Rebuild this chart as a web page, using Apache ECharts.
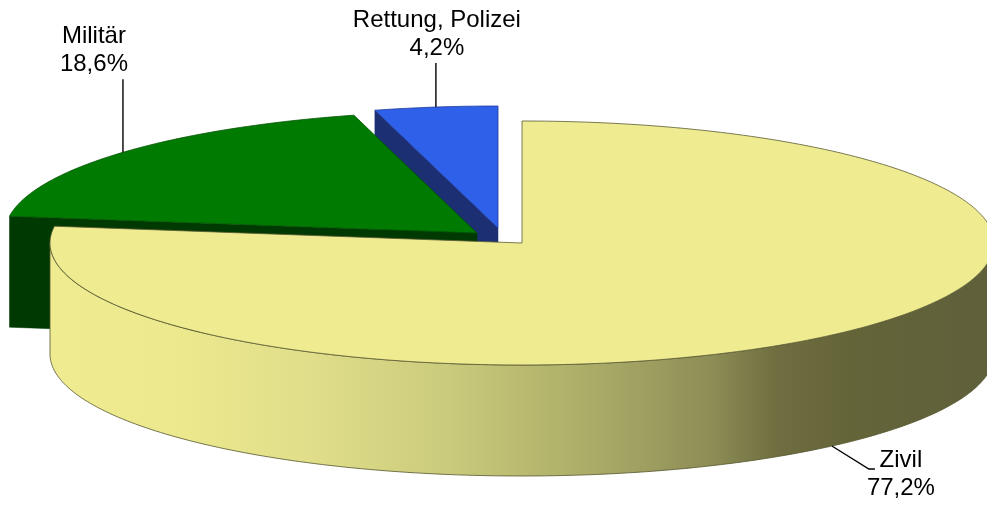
<!DOCTYPE html>
<html>
<head>
<meta charset="utf-8">
<style>
    html, body { margin: 0; padding: 0; background: #fff; }
    #chart { width: 987px; height: 505px; }
</style>
<script src="https://cdn.jsdelivr.net/npm/echarts@6/dist/echarts.min.js"></script>
</head>
<body>
<div id="chart"></div>
<script>
// Anteile
var categories = ['Zivil', 'Militär', 'Rettung, Polizei'];
var values = [77.2, 18.6, 4.2];
var valueLabels = ['77,2%', '18,6%', '4,2%'];

// Farben
var topColors = ['#EEEB90', '#007A00', '#2F60EA'];
var sideColors = ['#5F603B', '#003A02', '#1B2F72'];
var edgeColors = ['#5b5a33', '#005400', '#1d3a9a'];
var wallStops = [
    [0, '#EEEB90'], [0.13, '#ECE98E'], [0.275, '#E0DE8A'], [0.42, '#CACB7C'],
    [0.51, '#B8B96F'], [0.61, '#A3A463'], [0.70, '#8D8D56'], [0.77, '#6E6E40'],
    [0.85, '#646439'], [1, '#5F603B']
];

// Lage der Torte (Ellipse) und herausgezogene Stücke
var cx = 522, cy = 243, rx = 472, ry = 122, depth = 111;
var explode = [[0, 0], [-45, -10], [-24, -15]];
// Führungslinien (relativ zum Ankerpunkt) und Textversatz
var leader = [[[37, 23], [43, 23]], [[0, -73]], [[0, -44]]];
var textOffset = [[26, -23, 'top'], [-29, -1, 'bottom'], [1, -1, 'bottom']];

var total = values.reduce(function (a, b) { return a + b }, 0);
var starts = [];
var acc = 0;
values.forEach(function (v) {
    starts.push(acc / total * 360);
    acc += v;
});
// hintere Stücke zuerst zeichnen
var ranks = values.map(function (v, i) {
    var mid = starts[i] + v / total * 180;
    return { i: i, c: Math.cos(mid * Math.PI / 180) };
}).sort(function (a, b) { return b.c - a.c }).map(function (o) { return o.i });

function pt(a, off, down) {
    var r = a * Math.PI / 180;
    return [cx + off[0] + rx * Math.sin(r), cy + off[1] - ry * Math.cos(r) + (down || 0)];
}
function arc(a0, a1, off, down) {
    var pts = [];
    var n = Math.max(2, Math.ceil(a1 - a0));
    for (var k = 0; k <= n; k++) {
        pts.push(pt(a0 + (a1 - a0) * k / n, off, down));
    }
    return pts;
}

function renderItem(params, api) {
    var i = params.dataIndex;
    var a0 = starts[i];
    var a1 = a0 + api.value(1) / total * 360;
    var mid = (a0 + a1) / 2;
    var off = explode[i];
    var v = [cx + off[0], cy + off[1]];
    var base = ranks.indexOf(i) * 4 + 1;
    var children = [];

    // Schnittflächen
    [[a0, a0 - 90], [a1, a1 + 90]].forEach(function (f) {
        if (-Math.cos(f[1] * Math.PI / 180) > 0.01) {
            var p = pt(f[0], off);
            children.push({
                type: 'polygon', z2: base,
                shape: { points: [v, p, [p[0], p[1] + depth], [v[0], v[1] + depth]] },
                style: { fill: sideColors[i], stroke: sideColors[i], lineWidth: 0.5 }
            });
        }
    });

    // Mantel vorne
    var w0 = Math.max(a0, 90), w1 = Math.min(a1, 270);
    if (w1 > w0) {
        var top = arc(w0, w1, off);
        var bot = arc(w0, w1, off, depth).reverse();
        children.push({
            type: 'polygon', z2: base + 1,
            shape: { points: top.concat(bot) },
            style: {
                fill: new echarts.graphic.LinearGradient(0, 0, 1, 0, wallStops.map(function (s) {
                    return { offset: s[0], color: s[1] };
                })),
                stroke: '#55552f', lineWidth: 0.8
            }
        });
    }

    // Deckfläche
    children.push({
        type: 'polygon', z2: base + 2,
        shape: { points: [v].concat(arc(a0, a1, off)) },
        style: { fill: topColors[i], stroke: edgeColors[i], lineWidth: 0.8 }
    });

    // Beschriftung
    var front = Math.cos(mid * Math.PI / 180) < 0;
    var s = pt(mid, off, front ? depth : 0);
    var line = [s];
    leader[i].forEach(function (d) { line.push([s[0] + d[0], s[1] + d[1]]) });
    children.push({
        type: 'polyline', z2: 30,
        shape: { points: line },
        style: { stroke: '#000', lineWidth: 1.4, fill: null }
    });
    var e = line[line.length - 1];
    children.push({
        type: 'text', z2: 31,
        x: e[0] + textOffset[i][0], y: e[1] + textOffset[i][1],
        style: {
            text: categories[i] + '\n' + valueLabels[i],
            font: '24px "Liberation Sans", Arial, sans-serif',
            fill: '#000', align: 'center', verticalAlign: textOffset[i][2], lineHeight: 28
        }
    });

    return { type: 'group', children: children };
}

var myChart = echarts.init(document.getElementById('chart'));
var option = {
    animation: false,
    series: [{
        type: 'custom',
        coordinateSystem: 'none',
        renderItem: renderItem,
        data: values.map(function (v, i) { return [i, v] })
    }]
};
myChart.setOption(option);
</script>
</body>
</html>
